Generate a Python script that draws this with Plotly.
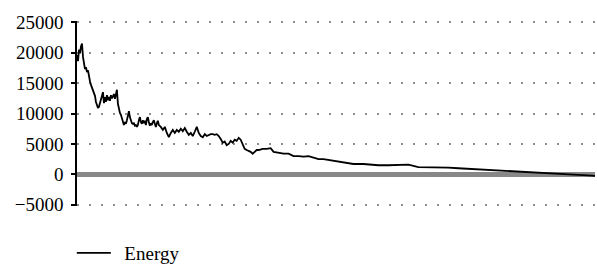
import plotly.graph_objects as go

# iteration index and energy values
iterations = [0, 2, 4, 6, 8, 10, 12, 14, 16, 18, 20, 22, 24, 26, 28, 30, 32, 34, 36, 38,
              40, 42, 44, 46, 48, 50, 52, 54, 56, 58, 60, 62, 64, 66, 68, 70, 72, 74, 76, 78,
              80, 82, 84, 86, 88, 90, 92, 94, 96, 98, 100, 102, 104, 106, 108, 110, 112, 114, 116, 118,
              120, 122, 124, 126, 128, 130, 132, 134, 136, 138, 140, 142, 144, 146, 148, 150, 152, 154, 156, 158,
              160, 162, 164, 168, 172, 176, 180, 184, 188, 192, 196, 200, 204, 208, 212, 216, 220, 224, 228, 232,
              236, 240, 244, 248, 252, 256, 260, 264, 268, 272, 276, 280, 284, 288, 292, 296, 300, 304, 308, 312,
              316, 320, 324, 328, 332, 336, 340, 344, 348, 352, 356, 360, 364, 372, 380, 388, 394, 404, 414, 424,
              434, 444, 454, 464, 474, 484, 494, 514, 534, 554, 574, 588, 596, 604, 624, 644, 664, 684, 704, 724,
              744, 764, 784, 804, 824, 844, 864, 884, 904, 924, 944, 964, 984, 1004, 1024, 1038]
energy = [19600, 18600, 20500, 19900, 21000, 21500, 19300, 17900, 17300, 17600, 16800, 17100, 16000, 15300, 14700, 14300, 13700, 13200, 12900, 11900,
          11200, 10900, 11100, 11700, 12400, 12900, 13500, 11700, 12700, 11900, 13000, 12200, 12700, 12100, 13000, 12500, 12900, 13200, 12400, 13400,
          13900, 11600, 10700, 10100, 9800, 9100, 8400, 8100, 8600, 8300, 8900, 9600, 10400, 9400, 8800, 8400, 8300, 8400, 8000, 8100,
          7800, 8100, 8900, 9400, 8600, 8300, 8900, 8400, 8800, 8100, 9100, 9400, 8600, 8000, 8400, 8100, 8600, 8900, 8300, 7800,
          8400, 8800, 8100, 7800, 7300, 7800, 6800, 6100, 6800, 7300, 6800, 7300, 7000, 7500, 7100, 7600, 7000, 6500, 6800, 6300,
          7000, 7800, 6800, 6300, 6100, 6600, 6300, 6500, 6600, 6600, 6500, 6600, 6300, 5800, 5200, 5400, 4800, 5000, 5500, 5200,
          5700, 5500, 6000, 5700, 4800, 4200, 4000, 3900, 3700, 3400, 3700, 4000, 4000, 4200, 4200, 4300, 3700, 3500, 3400, 3400,
          3000, 3000, 2900, 3000, 2700, 2500, 2500, 2200, 1900, 1700, 1700, 1600, 1600, 1500, 1500, 1500,
          1600, 1200, 1200, 1150, 1100, 1000, 900, 800, 700, 650, 570, 400, 330, 250, 160, 80,
          0, -80, -160, -250]
energy = energy[:len(iterations)]
iterations = iterations[:len(energy)]

y_ticks = [-5000, 0, 5000, 10000, 15000, 20000, 25000]
y_tick_text = ["\u22125000", "0", "5000", "10000", "15000", "20000", "25000"]

font_family = "Liberation Serif"

fig = go.Figure()
fig.add_trace(go.Scatter(
    x=iterations, y=energy, mode="lines", name="\u00a0\u2009Energy",
    line=dict(color="black", width=1.8),
))

fig.update_layout(
    width=597, height=265,
    margin=dict(l=77, r=2, t=21, b=59, autoexpand=False),
    paper_bgcolor="white", plot_bgcolor="white",
    font=dict(family=font_family, size=19, color="black"),
    showlegend=True,
    legend=dict(orientation="h", x=-0.01, xanchor="left", y=-0.254, yanchor="middle",
                font=dict(family=font_family, size=19, color="black"),
                bgcolor="rgba(0,0,0,0)", itemwidth=34),
    xaxis=dict(range=[0, 1038], showgrid=False, zeroline=False, showline=False,
               showticklabels=False, ticks="", automargin=False),
    yaxis=dict(range=[-5200, 25200], tickvals=y_ticks, ticktext=y_tick_text,
               showgrid=True, gridcolor="#8c8c8c", gridwidth=1.5, griddash="2px,10px",
               zeroline=True, zerolinecolor="#888888", zerolinewidth=5,
               showline=True, linecolor="black", linewidth=1.5,
               ticks="outside", ticklen=4, tickcolor="black", tickwidth=1.5,
               ticklabelstandoff=4, automargin=False),
)

fig.write_html("out.html", config={"displayModeBar": False},
               post_script="document.body.style.margin='0';document.body.style.overflow='hidden';")
